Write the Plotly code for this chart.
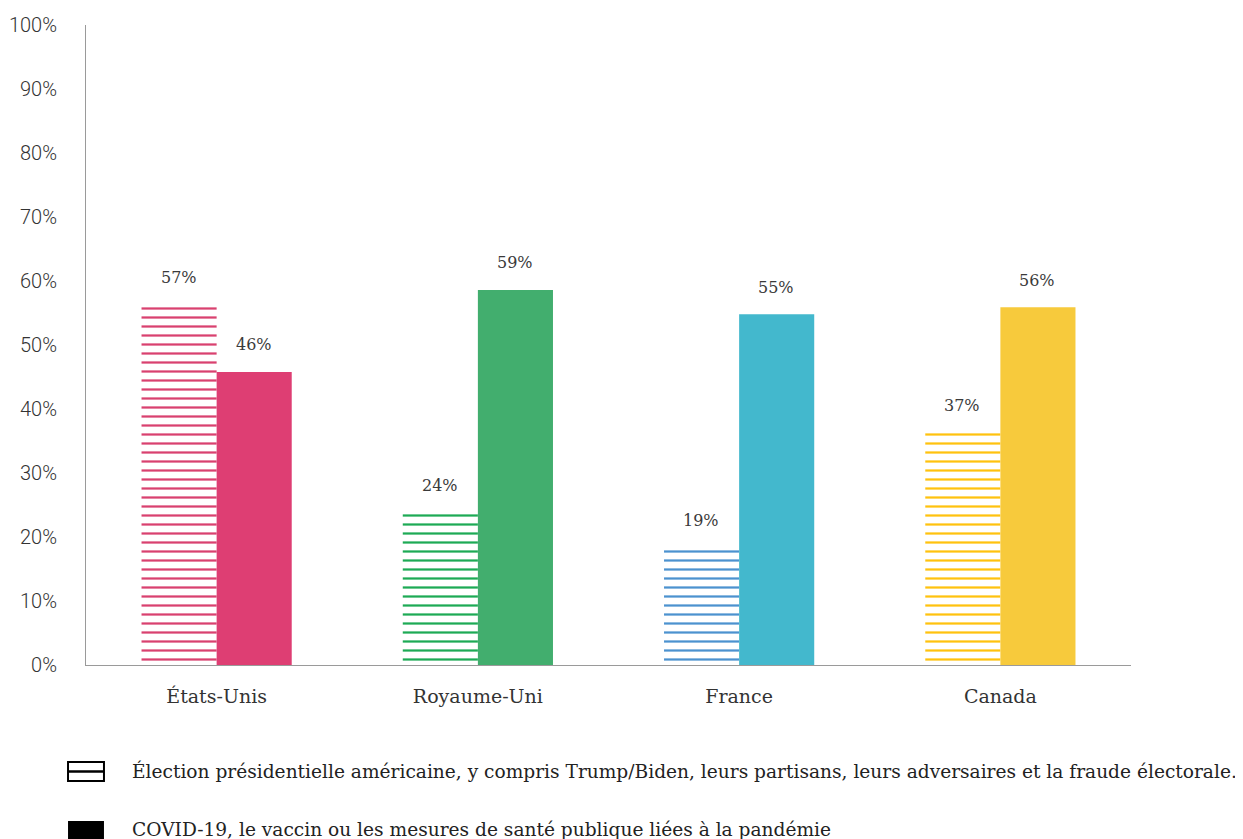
import plotly.graph_objects as go

categories = ["États-Unis", "Royaume-Uni", "France", "Canada"]
election_values = [56.3, 23.9, 18.3, 36.4]
covid_values = [45.8, 58.6, 54.8, 55.9]
election_labels = ["57%", "24%", "19%", "37%"]
covid_labels = ["46%", "59%", "55%", "56%"]
solid_colors = ["#DE3E73", "#42AE6E", "#43B8CD", "#F7CA3C"]
hatch_colors = ["#D9416F", "#1DAA55", "#4C92CF", "#FFC20E"]
y_ticks = list(range(0, 101, 10))
legend_texts = [
    "Élection présidentielle américaine, y compris Trump/Biden, leurs partisans, leurs adversaires et la fraude électorale.",
    "COVID-19, le vaccin ou les mesures de santé publique liées à la pandémie",
]

serif = "DejaVu Serif"
sans = "Roboto"

fig = go.Figure()
fig.add_trace(go.Bar(
    x=categories, y=election_values, name=legend_texts[0],
    marker=dict(color="white", line=dict(width=0),
                pattern=dict(shape="-", fgcolor=hatch_colors, bgcolor="white", fgopacity=1,
                             size=9, solidity=0.25, fillmode="overlay")),
    showlegend=False,
))
fig.add_trace(go.Bar(
    x=categories, y=covid_values, name=legend_texts[1],
    marker=dict(color=solid_colors, line=dict(width=0)),
    showlegend=False,
))

for i, c in enumerate(categories):
    fig.add_annotation(x=c, y=election_values[i], text=election_labels[i], xshift=-38, yshift=27,
                       showarrow=False, font=dict(family=serif, size=16, color="#3a3a3a"))
    fig.add_annotation(x=c, y=covid_values[i], text=covid_labels[i], xshift=37, yshift=27,
                       showarrow=False, font=dict(family=serif, size=16, color="#3a3a3a"))

fig.update_layout(
    width=1235, height=831,
    margin=dict(l=78, r=112, t=17, b=174, autoexpand=False),
    paper_bgcolor="white", plot_bgcolor="white",
    barmode="group", bargap=0.425, bargroupgap=0,
    xaxis=dict(showline=True, linecolor="#9a9a9a", linewidth=1, ticks="", ticklabelstandoff=14,
               automargin=False,
               tickfont=dict(family=serif, size=19, color="#333333"), showgrid=False),
    yaxis=dict(range=[0, 100], tickvals=y_ticks, ticktext=[f"{v}%" for v in y_ticks],
               showline=True, linecolor="#9a9a9a", linewidth=1, showgrid=False, zeroline=False,
               ticks="", ticklabelstandoff=24, automargin=False,
               tickfont=dict(family=sans, size=20, color="#333333", weight=300)),
)

# custom legend
fig.add_shape(type="rect", xref="paper", yref="paper", x0=-0.0172, x1=0.0172,
              y0=-0.1812, y1=-0.1516, line=dict(color="black", width=2), fillcolor="white")
fig.add_shape(type="line", xref="paper", yref="paper", x0=-0.0172, x1=0.0172,
              y0=-0.1664, y1=-0.1664, line=dict(color="black", width=2.5))
fig.add_shape(type="rect", xref="paper", yref="paper", x0=-0.0172, x1=0.0172,
              y0=-0.2718, y1=-0.2437, line=dict(color="black", width=0), fillcolor="black")
fig.add_annotation(xref="paper", yref="paper", x=0.0421, y=-0.1664, xanchor="left", yanchor="middle",
                   text=legend_texts[0], showarrow=False, font=dict(family=serif, size=18.6, color="#222222"))
fig.add_annotation(xref="paper", yref="paper", x=0.0421, y=-0.2578, xanchor="left", yanchor="middle",
                   text=legend_texts[1], showarrow=False, font=dict(family=serif, size=18.6, color="#222222"))

fig.write_html("out.html")
